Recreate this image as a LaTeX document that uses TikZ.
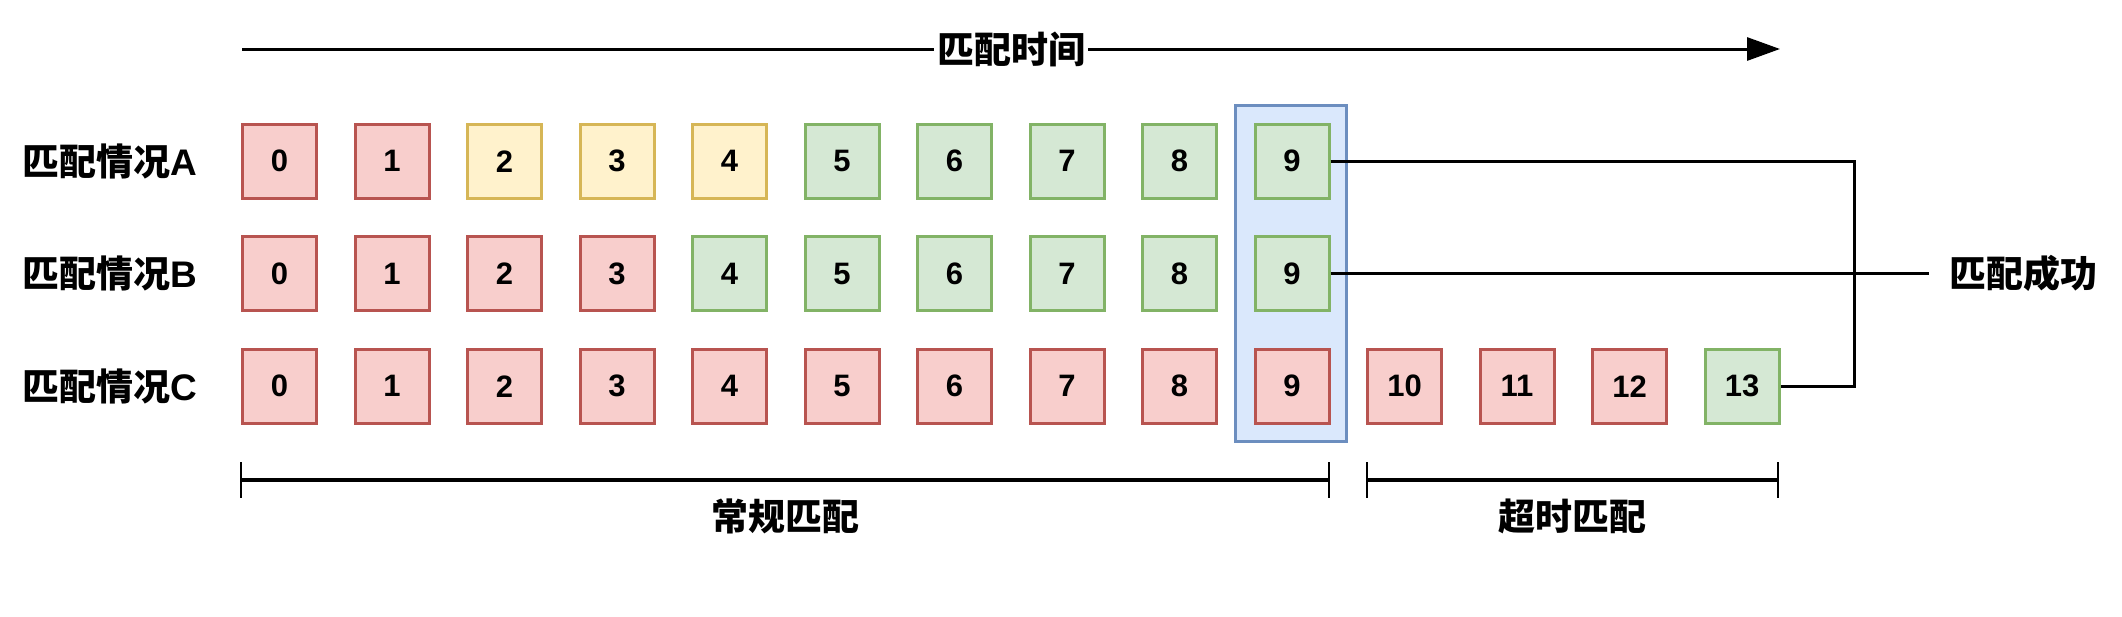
\documentclass[tikz,border=0pt]{standalone}
\usepackage{fontspec}
\setmainfont{Liberation Sans}
\newfontfamily\cjk{Noto Sans CJK SC}
\usepackage{tikz}
\usetikzlibrary{arrows.meta,positioning}

\definecolor{missfill}{HTML}{F8CECC}
\definecolor{missline}{HTML}{B85450}
\definecolor{partfill}{HTML}{FFF2CC}
\definecolor{partline}{HTML}{D6B656}
\definecolor{hitfill}{HTML}{D5E8D4}
\definecolor{hitline}{HTML}{82B366}
\definecolor{markfill}{HTML}{DAE8FC}
\definecolor{markline}{HTML}{6C8EBF}

\begin{document}
\begin{tikzpicture}[
        x=1pt, y=-1pt,
        cell/.style={rectangle, draw, line width=3pt, minimum width=74pt, minimum height=74pt, inner sep=0pt, font=\fontsize{31}{31}\selectfont\bfseries},
        miss/.style={cell, fill=missfill, draw=missline},
        part/.style={cell, fill=partfill, draw=partline},
        hit/.style={cell, fill=hitfill, draw=hitline},
        frame/.style={rectangle, draw=markline, fill=markfill, line width=3pt, minimum width=111pt, minimum height=336pt},
        tag/.style={inner sep=0pt, font=\fontsize{37}{37}\selectfont\bfseries},
        axis/.style={line width=3pt, -{Triangle[length=33pt, width=23pt]}},
        link/.style={line width=3pt},
        span/.style={line width=4pt},
        tick/.style={line width=2pt}
    ]
    \useasboundingbox (0,0) rectangle (2122,616);

    % Time axis
    \coordinate (t0) at (242,49);
    \coordinate (t1) at (1780,49);
    \draw[axis] (t0) -- node[tag, fill=white, inner xsep=3pt, inner ysep=2pt] (time) {\cjk 匹配时间} (t1);

    % Highlighted column
    \node[frame] (col9) at (1291,273.5) {};

    % Row labels
    \node[tag, anchor=east] (ra) at (197,161.3) {{\cjk 匹配情况}A};
    \node[tag, anchor=east] (rb) at (197,273.8) {{\cjk 匹配情况}B};
    \node[tag, anchor=east] (rc) at (197,386.3) {{\cjk 匹配情况}C};

    % Case A
    \node[miss] (a0) at (279.5,161.3) {0};
    \node[miss] (a1) at (392,161.3) {1};
    \node[part] (a2) at (504.5,161.3) {2};
    \node[part] (a3) at (617,161.3) {3};
    \node[part] (a4) at (729.5,161.3) {4};
    \node[hit] (a5) at (842,161.3) {5};
    \node[hit] (a6) at (954.5,161.3) {6};
    \node[hit] (a7) at (1067,161.3) {7};
    \node[hit] (a8) at (1179.5,161.3) {8};
    \node[hit] (a9) at (1292,161.3) {9};

    % Case B
    \node[miss] (b0) at (279.5,273.8) {0};
    \node[miss] (b1) at (392,273.8) {1};
    \node[miss] (b2) at (504.5,273.8) {2};
    \node[miss] (b3) at (617,273.8) {3};
    \node[hit] (b4) at (729.5,273.8) {4};
    \node[hit] (b5) at (842,273.8) {5};
    \node[hit] (b6) at (954.5,273.8) {6};
    \node[hit] (b7) at (1067,273.8) {7};
    \node[hit] (b8) at (1179.5,273.8) {8};
    \node[hit] (b9) at (1292,273.8) {9};

    % Case C
    \node[miss] (c0) at (279.5,386.3) {0};
    \node[miss] (c1) at (392,386.3) {1};
    \node[miss] (c2) at (504.5,386.3) {2};
    \node[miss] (c3) at (617,386.3) {3};
    \node[miss] (c4) at (729.5,386.3) {4};
    \node[miss] (c5) at (842,386.3) {5};
    \node[miss] (c6) at (954.5,386.3) {6};
    \node[miss] (c7) at (1067,386.3) {7};
    \node[miss] (c8) at (1179.5,386.3) {8};
    \node[miss] (c9) at (1292,386.3) {9};
    \node[miss] (c10) at (1404.5,386.3) {10};
    \node[miss] (c11) at (1517,386.3) {11};
    \node[miss] (c12) at (1629.5,386.3) {12};
    \node[hit] (c13) at (1742,386.3) {13};

    % Success
    \node[tag, inner xsep=20pt] (done) at (2023,273.8) {\cjk 匹配成功};
    \coordinate (join) at (1854,273.8);
    \draw[link] (a9.east) -| (join) |- (c13.east);
    \draw[link] (b9.east) -- (done.west);

    % Ranges
    \coordinate (r0) at (241,480);
    \coordinate (r1) at (1329,480);
    \coordinate (o0) at (1367,480);
    \coordinate (o1) at (1778,480);
    \draw[span] (r0) -- (r1);
    \draw[span] (o0) -- (o1);
    \draw[tick] ([yshift=18pt]r0) -- ([yshift=-18pt]r0);
    \draw[tick] ([yshift=18pt]r1) -- ([yshift=-18pt]r1);
    \draw[tick] ([yshift=18pt]o0) -- ([yshift=-18pt]o0);
    \draw[tick] ([yshift=18pt]o1) -- ([yshift=-18pt]o1);
    \node[tag] (regular) at (785,516) {\cjk 常规匹配};
    \node[tag] (timeout) at (1572,516) {\cjk 超时匹配};

\end{tikzpicture}
\end{document}
